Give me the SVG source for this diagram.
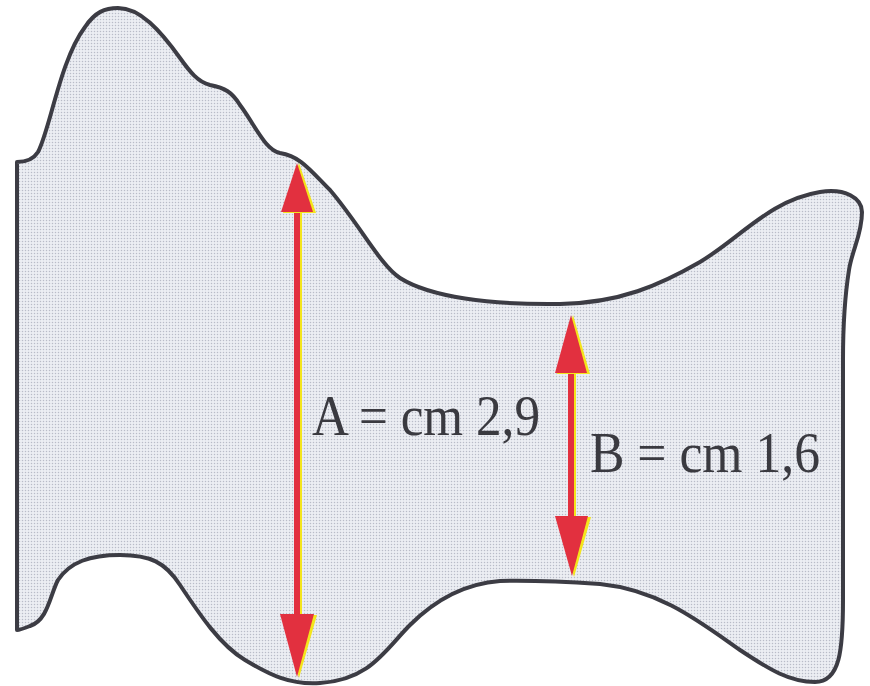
<svg xmlns="http://www.w3.org/2000/svg" width="870" height="686" viewBox="0 0 870 686">
<defs>
<pattern id="dots" width="3" height="3" patternUnits="userSpaceOnUse">
<rect width="3" height="3" fill="#eceef3"/>
<circle cx="1.5" cy="1.5" r="0.75" fill="#b9bcc8"/>
</pattern>
<style>
.outline{fill:url(#dots);stroke:#3c3c44;stroke-width:4;stroke-linejoin:round}
.red{fill:#e2303f}
.redline{stroke:#e2303f;stroke-width:6}
.yel{fill:#f4e51c}
.yelline{stroke:#f4e51c;stroke-width:6}
.lbl{font-family:"Liberation Serif","Times New Roman",serif;font-size:56px;fill:#3a3a40}
</style>
</defs>
<rect width="870" height="686" fill="#ffffff"/>
<g id="shape">
<path class="outline" d="M17,162 C25,162 33,160 38,152 C50,130 60,60 85,27 C95,12 105,8 118,8 C140,8 160,30 180,58 C190,72 198,82 210,85 C225,88 232,92 240,105 C255,125 265,150 280,153 C300,156 310,170 330,190 C360,225 380,265 400,278 C430,297 490,305 560,304 C620,303 660,285 700,262 C740,238 770,200 820,192 C845,188 862,198 862,212 C862,235 852,250 849,270 C845,295 843,320 843,360 L843,600 C843,650 840,682 815,682 C790,682 770,670 740,650 C700,622 660,590 600,584 C570,582 540,580 500,581 C460,584 430,605 410,625 C385,650 370,680 320,683 C290,685 270,675 245,660 C220,645 200,615 180,585 C165,562 150,555 120,555 C90,555 70,562 58,580 C50,595 48,620 30,626 C25,628 20,630 17,630 Z"/>
</g>
<g id="connectors">
<g id="arrowA">
<line class="yelline" x1="299" y1="205" x2="299" y2="620"/>
<line class="redline" x1="297" y1="205" x2="297" y2="620"/>
<polygon class="yel" points="299,163 283,213 316,213"/>
<polygon class="red" points="297,163 281,212 313,212"/>
<polygon class="yel" points="282,615 317,615 299,678"/>
<polygon class="red" points="280,614 314,614 297,677"/>
</g>
<g id="arrowB">
<line class="yelline" x1="573" y1="365" x2="573" y2="522"/>
<line class="redline" x1="571" y1="365" x2="571" y2="522"/>
<polygon class="yel" points="573,315 557,374 590,374"/>
<polygon class="red" points="571,315 555,373 587,373"/>
<polygon class="yel" points="557,517 591,517 574,577"/>
<polygon class="red" points="555,516 588,516 572,576"/>
</g>
</g>
<g id="labelA">
<text class="lbl" x="312" y="435" textLength="228" lengthAdjust="spacingAndGlyphs">A = cm 2,9</text>
</g>
<g id="labelB">
<text class="lbl" x="590" y="472" textLength="230" lengthAdjust="spacingAndGlyphs">B = cm 1,6</text>
</g>
</svg>
